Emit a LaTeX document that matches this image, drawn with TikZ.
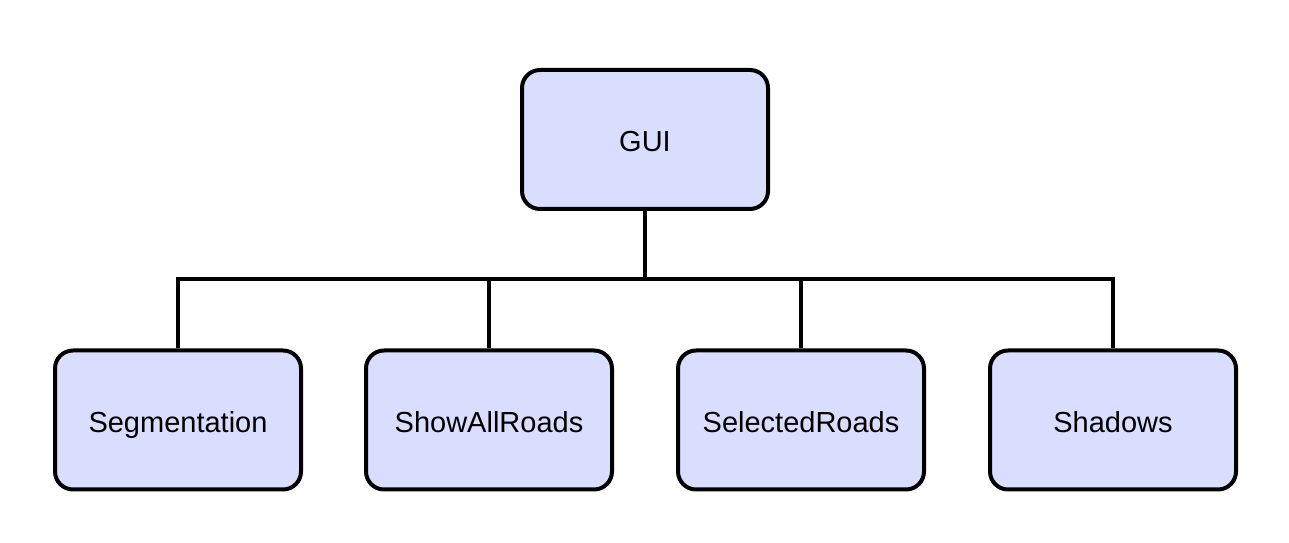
\documentclass[tikz,border=0pt]{standalone}
\usepackage{fontspec}
\setmainfont{Liberation Sans}
\definecolor{boxfill}{HTML}{D9DEFF}
\begin{document}
\begin{tikzpicture}[x=1cm,y=1cm,
  box/.style={draw=black, fill=boxfill, line width=0.08cm, rounded corners=0.36cm,
    minimum width=4.92cm, minimum height=2.78cm, inner sep=0pt,
    text height=16pt, text depth=2pt,
    font=\fontsize{16.5pt}{19pt}\selectfont},
  conn/.style={line width=0.08cm}]
\useasboundingbox (0,0) rectangle (25.78,10.86);
\node[box] (gui) at (12.9,8.07) {GUI};
\node[box] (seg) at (3.56,2.46) {Segmentation};
\node[box] (show) at (9.78,2.46) {ShowAllRoads};
\node[box] (sel) at (16.02,2.46) {SelectedRoads};
\node[box] (sha) at (22.26,2.46) {Shadows};
\coordinate (bar) at (12.9,5.28);
\draw[conn] (gui.south) -- (bar);
\draw[conn] (seg.north) |- (bar);
\draw[conn] (show.north) |- (bar);
\draw[conn] (sel.north) |- (bar);
\draw[conn] (sha.north) |- (bar);
\end{tikzpicture}
\end{document}
